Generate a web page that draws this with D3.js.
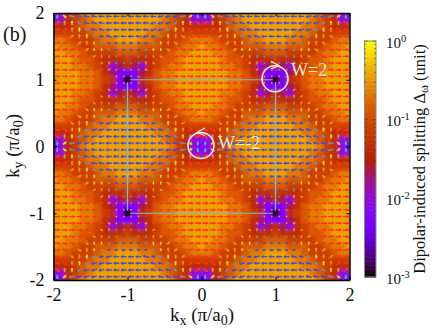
<!DOCTYPE html>
<html><head><meta charset="utf-8">
<script src="https://cdn.jsdelivr.net/npm/d3@7"></script>
<style>html,body{margin:0;padding:0;background:#fff}svg{display:block}text{font-family:"Liberation Serif",serif;fill:#111}</style>
</head><body>
<svg id="c" width="436" height="333"></svg>
<script>
// Splitting Delta_omega: one digit per grid point, 0.1 apart in k, rows from ky=2 down to ky=-2.
const heatRows = [
"23568999999999998653235689999999999986532",
"33567899999999987653335678999999999876533",
"55567889999999887655555678899999998876555",
"66666788999998876666666667889999988766666",
"88766678899988766678887666788999887666788",
"98876677788877766788988766777888777667889",
"99887666677766667889998876666777666678899",
"99987765556555677899999877655565556778999",
"99988765345435678899999887653454356788999",
"99998875422245788999999988754222457889999",
"99998876520256788999999988765202567889999",
"99998875422245788999999988754222457889999",
"99988765345435678899999887653454356788999",
"99987765556555677899999877655565556778999",
"99887666677766667889998876666777666678899",
"98876677788877766788988766777888777667889",
"88766678899988766678887666788999887666788",
"66666788999998876666666667889999988766666",
"55567889999999887655555678899999998876555",
"33567899999999987653335678999999999876533",
"23568999999999998653235689999999999986532",
"33567899999999987653335678999999999876533",
"55567889999999887655555678899999998876555",
"66666788999998876666666667889999988766666",
"88766678899988766678887666788999887666788",
"98876677788877766788988766777888777667889",
"99887666677766667889998876666777666678899",
"99987765556555677899999877655565556778999",
"99988765345435678899999887653454356788999",
"99998875422245788999999988754222457889999",
"99998876520256788999999988765202567889999",
"99998875422245788999999988754222457889999",
"99988765345435678899999887653454356788999",
"99987765556555677899999877655565556778999",
"99887666677766667889998876666777666678899",
"98876677788877766788988766777888777667889",
"88766678899988766678887666788999887666788",
"66666788999998876666666667889999988766666",
"55567889999999887655555678899999998876555",
"33567899999999987653335678999999999876533",
"23568999999999998653235689999999999986532"
];
// log10 of Delta for each heat digit
const heatLog = [-2.91,-2.55,-2.25,-2.01,-1.65,-1.32,-1.12,-0.88,-0.66,-0.43];

// Arrow tilt code per arrow (grid 0.1 apart, starting at +-1.95)
const tiltDeg = [0,12,35,90,-35,-12];
const arrowTilt = [
"3455550000000011112334555500000000111123",
"2334555000000111233423345550000001112334",
"1233455000000112334512334550000001123345",
"1123345500001123345511233455000011233455",
"1112334500001233455511123345000012334555",
"0111233450012334555001112334500123345550",
"0011123345123345550000111233451233455500",
"0001112334233455500000011123342334555000",
"0000011233334550000000000112333345500000",
"0000000123345000000000000001233450000000",
"0000000543321000000000000005433210000000",
"0000055433332110000000000554333321100000",
"0005554332433211100000055543324332111000",
"0055543321543321110000555433215433211100",
"0555433210054332111005554332100543321110",
"5554332100005433211155543321000054332111",
"5543321100005543321155433211000055433211",
"5433211000000554332154332110000005543321",
"4332111000000555433243321110000005554332",
"3211110000000055554332111100000000555543",
"3455550000000011112334555500000000111123",
"2334555000000111233423345550000001112334",
"1233455000000112334512334550000001123345",
"1123345500001123345511233455000011233455",
"1112334500001233455511123345000012334555",
"0111233450012334555001112334500123345550",
"0011123345123345550000111233451233455500",
"0001112334233455500000011123342334555000",
"0000011233334550000000000112333345500000",
"0000000123345000000000000001233450000000",
"0000000543321000000000000005433210000000",
"0000055433332110000000000554333321100000",
"0005554332433211100000055543324332111000",
"0055543321543321110000555433215433211100",
"0555433210054332111005554332100543321110",
"5554332100005433211155543321000054332111",
"5543321100005543321155433211000055433211",
"5433211000000554332154332110000005543321",
"4332111000000555433243321110000005554332",
"3211110000000055554332111100000000555543"
];
// Arrow colour class per arrow
const toneColors = ["#4a48e4","#7c86b4","#f2d038","#fa8a1c","#ff3418","#45b8cc"];
const arrowTone = [
"5210000000000000012552100000000000000125",
"4321000000000000123443210000000000001234",
"4432100000000001234444321000000000012344",
"4433210000000012334444332100000000123344",
"4443321000000123344444433210000001233444",
"4444322100001223444444443221000012234444",
"4444433110011334444444444331100113344444",
"4444443311113344444444444433111133444444",
"4444444331133444444444444443311334444444",
"4444444433334444444444444444333344444444",
"4444444433334444444444444444333344444444",
"4444444331133444444444444443311334444444",
"4444443311113344444444444433111133444444",
"4444433110011334444444444331100113344444",
"4444322100001223444444443221000012234444",
"4443321000000123344444433210000001233444",
"4433210000000012334444332100000000123344",
"4432100000000001234444321000000000012344",
"4321000000000000123443210000000000001234",
"5210000000000000012552100000000000000125",
"5210000000000000012552100000000000000125",
"4321000000000000123443210000000000001234",
"4432100000000001234444321000000000012344",
"4433210000000012334444332100000000123344",
"4443321000000123344444433210000001233444",
"4444322100001223444444443221000012234444",
"4444433110011334444444444331100113344444",
"4444443311113344444444444433111133444444",
"4444444331133444444444444443311334444444",
"4444444433334444444444444444333344444444",
"4444444433334444444444444444333344444444",
"4444444331133444444444444443311334444444",
"4444443311113344444444444433111133444444",
"4444433110011334444444444331100113344444",
"4444322100001223444444443221000012234444",
"4443321000000123344444433210000001233444",
"4433210000000012334444332100000000123344",
"4432100000000001234444321000000000012344",
"4321000000000000123443210000000000001234",
"5210000000000000012552100000000000000125"
];
// Arrow length class per arrow
const lengthPx = [0,1.6,2.8,4,5.6];
const arrowMag = [
"3344444444444444443333444444444444444433",
"4333444444444444333443334444444444443334",
"4433344444444443334444333444444444433344",
"4433333444444333334444333334444443333344",
"4443322223322223344444433222233222233444",
"4443322222222223344444433222222222233444",
"4444322211112223444444443222111122234444",
"4444332211112233444444443322111122334444",
"4444432211112234444444444322111122344444",
"4444332111111233444444443321111112334444",
"4444332111111233444444443321111112334444",
"4444432211112234444444444322111122344444",
"4444332211112233444444443322111122334444",
"4444322211112223444444443222111122234444",
"4443322222222223344444433222222222233444",
"4443322223322223344444433222233222233444",
"4433333444444333334444333334444443333344",
"4433344444444443334444333444444444433344",
"4333444444444444333443334444444444443334",
"3344444444444444443333444444444444444433",
"3344444444444444443333444444444444444433",
"4333444444444444333443334444444444443334",
"4433344444444443334444333444444444433344",
"4433333444444333334444333334444443333344",
"4443322223322223344444433222233222233444",
"4443322222222223344444433222222222233444",
"4444322211112223444444443222111122234444",
"4444332211112233444444443322111122334444",
"4444432211112234444444444322111122344444",
"4444332111111233444444443321111112334444",
"4444332111111233444444443321111112334444",
"4444432211112234444444444322111122344444",
"4444332211112233444444443322111122334444",
"4444322211112223444444443222111122234444",
"4443322222222223344444433222222222233444",
"4443322223322223344444433222233222233444",
"4433333444444333334444333334444443333344",
"4433344444444443334444333444444444433344",
"4333444444444444333443334444444444443334",
"3344444444444444443333444444444444444433"
];
const axisTicks = [-2,-1,0,1,2];
const barDecades = [1,0.1,0.01,0.001];
const barExponents = ["0","-1","-2","-3"];
const barMinor = [2,3,4,5,6,7,8,9];
const squareCorners = [[-1,1],[1,1],[1,-1],[-1,-1],[-1,1]];
const windings = [{kx:1,ky:1,label:"W=2",dir:1},{kx:0,ky:0,label:"W=-2",dir:-1}];

const svg = d3.select("#c");
const x = d3.scaleLinear().domain([-2,2]).range([53.5,349.5]);
const y = d3.scaleLinear().domain([-2,2]).range([280,13]);
const cb = d3.scaleLog().domain([0.001,1]).range([277,41]);

// gnuplot default pm3d palette (7,5,15)
const palette = t => {
  const r = Math.sqrt(t), g = t*t*t, b = Math.max(0,Math.sin(2*Math.PI*t));
  return d3.rgb(255*r,255*g,255*b)+"";
};
const colorOf = d => palette((Math.log10(d)+3)/3);

const defs = svg.append("defs");
defs.append("clipPath").attr("id","plot").append("rect")
  .attr("x",x(-2)).attr("y",y(2)).attr("width",x(2)-x(-2)).attr("height",y(-2)-y(2));
defs.append("filter").attr("id","soft").attr("filterUnits","userSpaceOnUse")
  .attr("x",30).attr("y",0).attr("width",340).attr("height",300)
  .append("feGaussianBlur").attr("stdDeviation",1.5);

const heatCells = heatRows.flatMap((row,j)=>row.split("").map((c,i)=>({
  kx:-2+i*0.1, ky:2-j*0.1, level:+c, value:Math.pow(10,heatLog[+c])})));
const cw = Math.abs(x(0.1)-x(0)), ch = Math.abs(y(0.1)-y(0));
const plot = svg.append("g").attr("clip-path","url(#plot)");
const cellRects = (g,data)=>g.selectAll("rect").data(data).join("rect")
  .attr("x",d=>x(d.kx)-cw/2-0.3).attr("y",d=>y(d.ky)-ch/2-0.3)
  .attr("width",cw+0.6).attr("height",ch+0.6)
  .attr("fill",d=>colorOf(d.value));
cellRects(plot.append("g").attr("filter","url(#soft)"),heatCells);

// arrows
const arrows = arrowTilt.flatMap((row,j)=>row.split("").map((c,i)=>({
  kx:-1.95+i*0.1, ky:1.95-j*0.1, tilt:tiltDeg[+c],
  tone:+arrowTone[j][i], len:lengthPx[+arrowMag[j][i]]})));
const ag = plot.append("g").selectAll("g").data(arrows).join("g")
  .attr("transform",d=>`translate(${x(d.kx)},${y(d.ky)}) rotate(${-d.tilt+(d.tone<=1||d.tone===5?180:0)})`);
ag.append("line").attr("x1",d=>-d.len/2).attr("x2",d=>d.len/2)
  .attr("stroke",d=>toneColors[d.tone]).attr("stroke-width",1.4);
ag.append("path")
  .attr("d",d=>{const h=d.len/2,s=Math.min(2.2,0.5*d.len);return `M${h+0.6},0L${h-s},${-s*0.75}L${h-s},${s*0.75}Z`;})
  .attr("fill",d=>toneColors[d.tone]);

// Brillouin square
plot.append("path").datum(squareCorners)
  .attr("d",d3.line().x(d=>x(d[0])).y(d=>y(d[1])))
  .attr("fill","none").attr("stroke","#7fb8cc").attr("stroke-width",1.2);
plot.append("g").selectAll("rect").data(heatCells.filter(d=>d.level===0)).join("rect")
  .attr("x",d=>x(d.kx)-2.6).attr("y",d=>y(d.ky)-2.6).attr("width",5.2).attr("height",5.2)
  .attr("fill",d=>colorOf(d.value));

// winding circles
const rad = 13;
const wg = svg.append("g").selectAll("g").data(windings).join("g")
  .attr("transform",d=>`translate(${x(d.kx)-0.5},${y(d.ky)-1})`);
wg.append("circle").attr("r",rad).attr("fill","none").attr("stroke","#f0ece8").attr("stroke-width",1.6);
wg.append("path")
  .attr("d",d=>`M${-d.dir*4},${-rad-4.5}L${d.dir*4},${-rad}L${-d.dir*4},${-rad+3}`)
  .attr("fill","none").attr("stroke","#f0ece8").attr("stroke-width",1.3);
wg.append("text").attr("x",d=>d.dir>0?16:17).attr("y",d=>d.dir>0?-3:3)
  .attr("font-size",18).style("fill","#f0e8dc").text(d=>d.label);

// frame and axes
const axB = svg.append("g").attr("transform",`translate(0,${y(-2)})`)
  .call(d3.axisBottom(x).tickValues(axisTicks).tickFormat(d=>d<0?"-"+(-d):d).tickSizeInner(-3).tickSizeOuter(0).tickPadding(8));
const axL = svg.append("g").attr("transform",`translate(${x(-2)},0)`)
  .call(d3.axisLeft(y).tickValues(axisTicks).tickFormat(d=>d<0?"-"+(-d):d).tickSizeInner(-3).tickSizeOuter(0).tickPadding(9));
const axT = svg.append("g").attr("transform",`translate(0,${y(2)})`)
  .call(d3.axisTop(x).tickValues(axisTicks).tickFormat("").tickSizeInner(-3).tickSizeOuter(0));
const axR = svg.append("g").attr("transform",`translate(${x(2)},0)`)
  .call(d3.axisRight(y).tickValues(axisTicks).tickFormat("").tickSizeInner(-3).tickSizeOuter(0));
[axB,axL,axT,axR].forEach(a=>{a.select(".domain").attr("stroke","#000").attr("stroke-width",1.5);
  a.selectAll(".tick line").attr("stroke","#000");
  a.selectAll("text").attr("font-size",18).attr("font-family",'"Liberation Serif",serif').style("fill","#111");});

svg.append("text").attr("x",3).attr("y",41).attr("font-size",20).text("(b)");

// axis titles
const xt = svg.append("text").attr("x",202).attr("y",321).attr("text-anchor","middle").attr("font-size",19);
xt.append("tspan").text("k");
xt.append("tspan").attr("font-size",14).attr("dy",4).text("x");
xt.append("tspan").attr("dy",-4).text(" (π/a");
xt.append("tspan").attr("font-size",14).attr("dy",4).text("0");
xt.append("tspan").attr("dy",-4).text(")");
const yt = svg.append("text").attr("transform","translate(19,146) rotate(-90)").attr("text-anchor","middle").attr("font-size",19);
yt.append("tspan").text("k");
yt.append("tspan").attr("font-size",14).attr("dy",4).text("y");
yt.append("tspan").attr("dy",-4).text(" (π/a");
yt.append("tspan").attr("font-size",14).attr("dy",4).text("0");
yt.append("tspan").attr("dy",-4).text(")");

// colour bar
const barX = 364.5, barW = 11.5;
const bands = d3.range(0,1,1/60);
svg.append("g").selectAll("rect").data(bands).join("rect")
  .attr("x",barX).attr("width",barW)
  .attr("y",d=>cb(Math.pow(10,3*(d+1/60)-3))).attr("height",(cb(0.001)-cb(1))/60+0.5)
  .attr("fill",d=>palette(d+1/120));
svg.append("rect").attr("x",barX).attr("y",cb(1)).attr("width",barW).attr("height",cb(0.001)-cb(1))
  .attr("fill","none").attr("stroke","#8a8a8a").attr("stroke-width",1);
const minorVals = barDecades.slice(1).flatMap(d=>barMinor.map(m=>d*m));
[[minorVals,1.8],[barDecades,3.2]].forEach(([vals,len])=>{
  const tk = svg.append("g").selectAll("g").data(vals).join("g");
  tk.append("line").attr("x1",barX).attr("x2",barX+len).attr("y1",d=>cb(d)).attr("y2",d=>cb(d)).attr("stroke","#333").attr("stroke-width",0.7).attr("opacity",0.7);
  tk.append("line").attr("x1",barX+barW).attr("x2",barX+barW-len).attr("y1",d=>cb(d)).attr("y2",d=>cb(d)).attr("stroke","#333").attr("stroke-width",0.7).attr("opacity",0.7);
});
const bl = svg.append("g").selectAll("text").data(barDecades).join("text")
  .attr("x",386).attr("y",d=>cb(d)+6.5).attr("font-size",15);
bl.append("tspan").text("10");
bl.append("tspan").attr("dy",-6).attr("font-size",10.5).text((d,i)=>barExponents[i]);

const bt = svg.append("text").attr("transform","translate(425,159) rotate(-90)").attr("text-anchor","middle").attr("font-size",16.5);
bt.append("tspan").text("Dipolar-induced splitting Δ");
bt.append("tspan").attr("font-size",12).attr("dy",3).text("ω");
bt.append("tspan").attr("dy",-3).text(" (unit)");
</script>
</body></html>
